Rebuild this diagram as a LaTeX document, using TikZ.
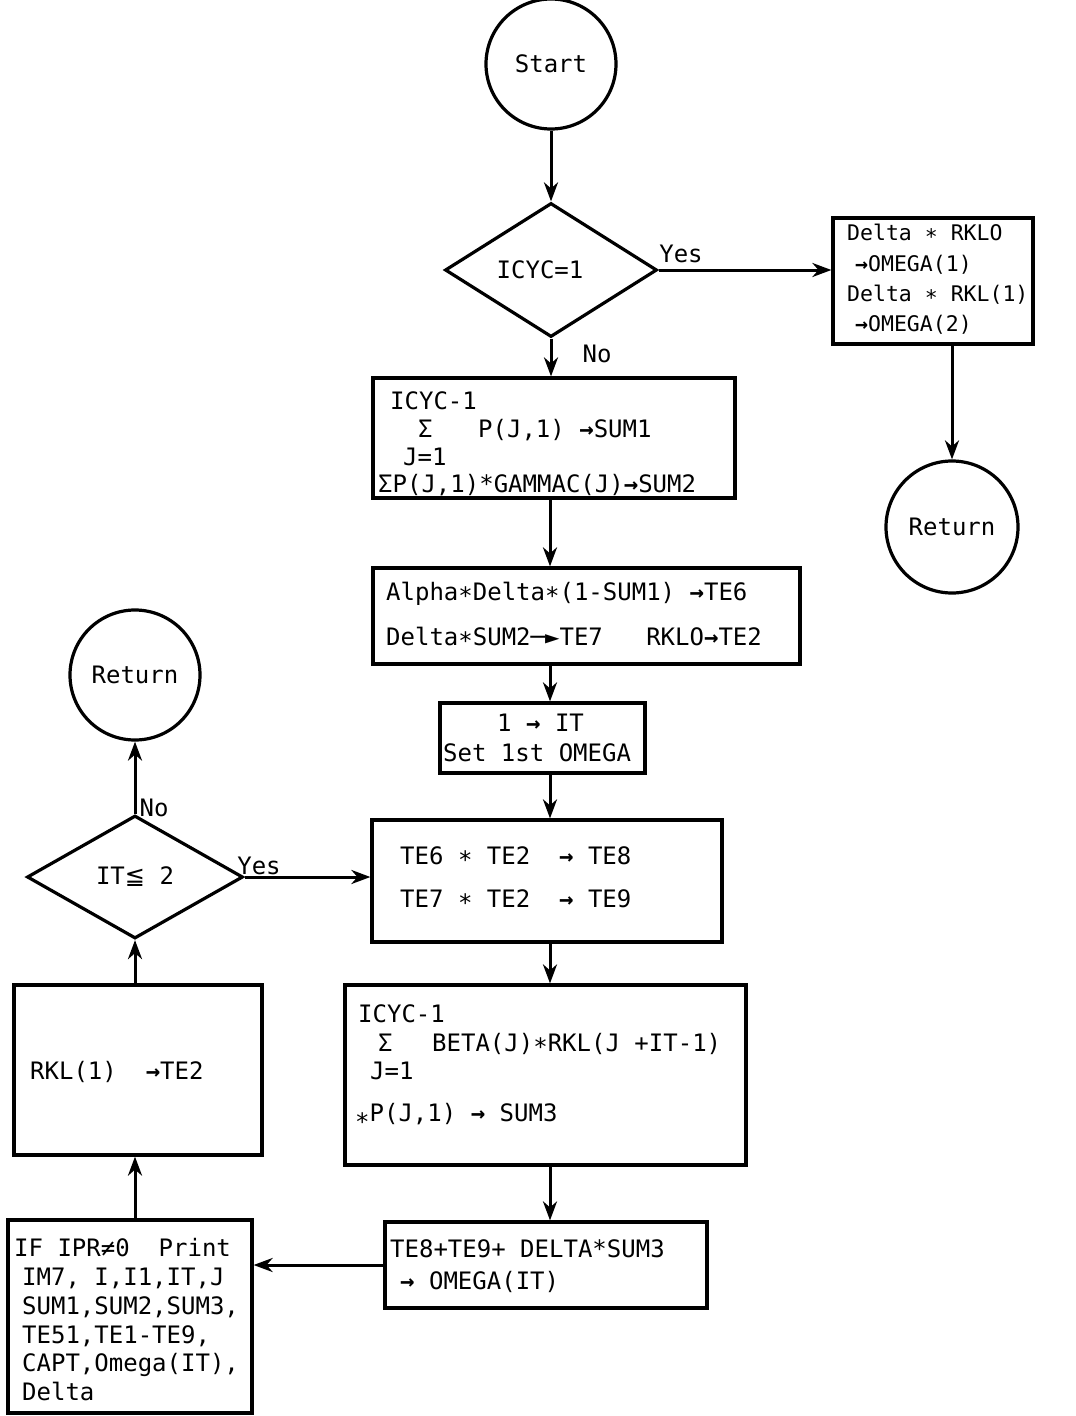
\documentclass[tikz,border=0pt]{standalone}
\usepackage{fontspec}
\newfontfamily\tw{DejaVu Sans Mono}
\newfontfamily\djs{DejaVu Sans}
\usetikzlibrary{arrows.meta,shapes.geometric,calc}
\newcommand\mst{\raisebox{-0.35ex}{*}}
\newcommand\lst{\raisebox{-0.75ex}{*}}
\newcommand\ar{{\bfseries →}}
\begin{document}
\begin{tikzpicture}[x=1pt,y=-1pt,
  txt/.style={font=\tw\fontsize{24}{29}\selectfont, inner sep=0pt},
  lbl/.style={txt, anchor=base west},
  sml/.style={lbl, font=\tw\fontsize{21.5}{26}\selectfont},
  box/.style={draw, line width=3.2pt, inner sep=0pt, rectangle},
  term/.style={draw, circle, line width=3.2pt, inner sep=0pt, txt},
  dec/.style={draw, diamond, line width=3.2pt, inner sep=0pt, txt},
  flow/.style={line width=3pt, -{Stealth[length=19pt,width=14pt,inset=6pt]}},
]
\useasboundingbox (0,0) rectangle (1076,1416);
\fill[white] (0,0) rectangle (1076,1416);

% shapes
\node[term, minimum size=130pt] (start) at (551,64) {Start};
\node[dec, minimum width=212pt, minimum height=134pt] (d1) at (551,270) {ICYC=1\hspace*{22pt}};
\node[box, minimum width=200pt, minimum height=126pt] (rb) at (933,281) {};
\node[term, minimum size=132pt] (ret1) at (952,527) {Return};
\node[box, minimum width=362pt, minimum height=120pt] (b1) at (554,438) {};
\node[box, minimum width=427pt, minimum height=96pt] (b2) at (586.5,616) {};
\node[box, minimum width=205pt, minimum height=70pt] (b3) at (542.5,738) {};
\node[box, minimum width=350pt, minimum height=122pt] (b4) at (547,881) {};
\node[box, minimum width=401pt, minimum height=180pt] (b5) at (545.5,1075) {};
\node[box, minimum width=322pt, minimum height=86pt] (b6) at (546,1265) {};
\node[box, minimum width=244pt, minimum height=193pt] (b7) at (130,1316.5) {};
\node[box, minimum width=248pt, minimum height=170pt] (b8) at (138,1070) {};
\node[dec, minimum width=216pt, minimum height=123pt] (d2) at (135,877) {IT{\djs ≦} 2};
\node[term, minimum size=130pt] (ret2) at (135,675) {Return};

% connectors
\coordinate (col) at (550,0);
\coordinate (lcol) at (135,0);
\draw[flow] (start.south) -- (start.south |- d1.north);
\draw[flow] (d1.east) -- (d1.east -| rb.west);
\draw[flow] (ret1.north |- rb.south) -- (ret1.north);
\draw[flow] (d1.south) -- (d1.south |- b1.north);
\draw[flow] (col |- b1.south) -- (col |- b2.north);
\draw[flow] (col |- b2.south) -- (col |- b3.north);
\draw[flow] (col |- b3.south) -- (col |- b4.north);
\draw[flow] (col |- b4.south) -- (col |- b5.north);
\draw[flow] (col |- b5.south) -- (col |- b6.north);
\draw[flow] (b6.west) -- (b6.west -| b7.east);
\draw[flow] (lcol |- b7.north) -- (lcol |- b8.south);
\draw[flow] (lcol |- b8.north) -- (d2.south);
\draw[flow] (d2.east) -- (d2.east -| b4.west);
\draw[flow] (d2.north) -- (ret2.south);

% branch labels
\node[txt] (yes1) at (681,254) {Yes};
\node[txt] (no1) at (597,354) {No};
\node[txt] (yes2) at (259,866) {Yes};
\node[txt] (no2) at (154,808) {No};

% right box
\node[sml] (r1) at (847,240) {Delta \mst{} RKLO};
\node[sml] (r2) at (855,271) {\ar OMEGA(1)};
\node[sml] (r3) at (847,301) {Delta \mst{} RKL(1)};
\node[sml] (r4) at (855,331) {\ar OMEGA(2)};

% b1
\node[lbl] (b1a) at (390,409) {ICYC-1};
\node[lbl] (b1b) at (418,437) {Σ};
\node[lbl] (b1c) at (478,437) {P(J,1) \ar SUM1};
\node[lbl] (b1d) at (403,465) {J=1};
\node[lbl] (b1e) at (378,492) {ΣP(J,1)*GAMMAC(J)\ar SUM2};

% b2
\node[lbl] (b2a) at (386,600) {Alpha\mst{}Delta\mst{}(1-SUM1) \ar TE6};
\node[lbl] (b2b) at (386,645) {Delta\mst{}SUM2─►TE7\ \ \ RKLO\ar TE2};

% b3
\node[lbl] (b3a) at (497,731) {1 \ar{} IT};
\node[lbl] (b3b) at (443,761) {Set 1st OMEGA};

% b4
\node[lbl] (b4a) at (400,864) {TE6 \mst{} TE2\ \ \ar{} TE8};
\node[lbl] (b4b) at (400,907) {TE7 \mst{} TE2\ \ \ar{} TE9};

% b5
\node[lbl] (b5a) at (358,1022) {ICYC-1};
\node[lbl] (b5b) at (378,1051) {Σ};
\node[lbl] (b5c) at (432,1051) {BETA(J)\mst{}RKL(J +IT-1)};
\node[lbl] (b5d) at (370,1079) {J=1};
\node[lbl] (b5e) at (355,1121) {\lst{}P(J,1) \ar{} SUM3};

% b6
\node[lbl] (b6a) at (390,1257) {TE8+TE9+ DELTA*SUM3};
\node[lbl] (b6b) at (400,1289) {\ar{} OMEGA(IT)};

% b7
\node[lbl] (b7a) at (14,1256) {IF IPR≠0\ \ Print};
\node[lbl] (b7b) at (22,1285) {IM7, I,I1,IT,J};
\node[lbl] (b7c) at (22,1314) {SUM1,SUM2,SUM3,};
\node[lbl] (b7d) at (22,1343) {TE51,TE1-TE9,};
\node[lbl] (b7e) at (22,1371) {CAPT,Omega(IT),};
\node[lbl] (b7f) at (22,1400) {Delta};

% b8
\node[lbl] (b8a) at (30,1079) {RKL(1)\ \ \ar TE2};
\end{tikzpicture}
\end{document}
